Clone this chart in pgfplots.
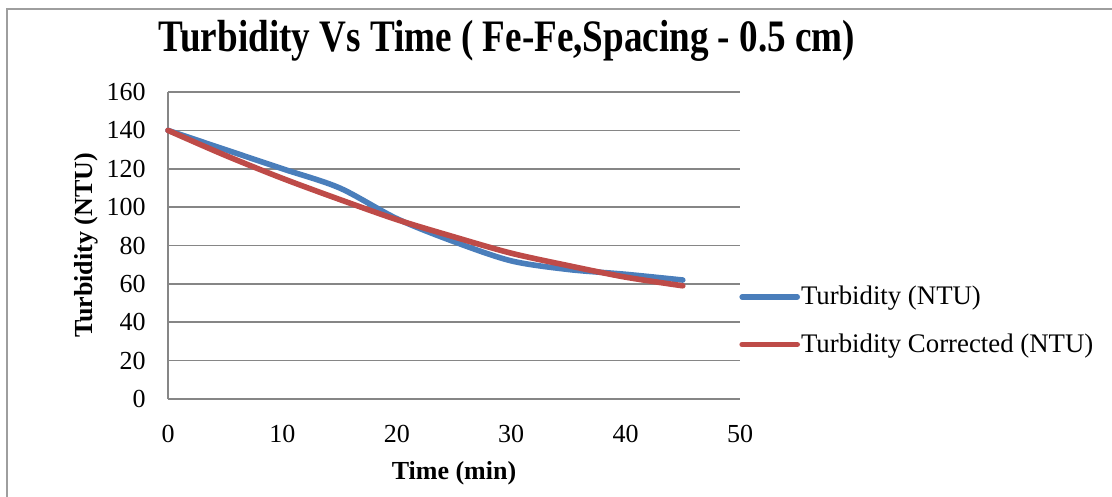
\documentclass[border=0pt]{standalone}
\usepackage{fontspec}
\setmainfont{Liberation Serif}
\usepackage{graphicx}
\usepackage{pgfplots}
\pgfplotsset{compat=1.18}
\definecolor{ser1}{RGB}{74,126,187}
\definecolor{ser2}{RGB}{190,75,72}
\definecolor{gridc}{RGB}{134,134,134}
\begin{document}
\begin{tikzpicture}
\useasboundingbox (0,0) rectangle (556pt,-248.5pt);
\draw[gridc!80, line width=0.8pt] (3.5pt,-248.5pt) -- (3.5pt,-4.5pt) -- (556pt,-4.5pt);
\node[anchor=base, font=\fontsize{22.5}{26}\selectfont\bfseries] at (253.5pt,-26pt) {\scalebox{0.825}[1]{Turbidity Vs Time ( Fe-Fe,Spacing - 0.5 cm)}};
\begin{axis}[
  at={(84pt,-199.5pt)}, anchor=south west,
  scale only axis, width=286pt, height=153.5pt,
  xmin=0, xmax=50, ymin=0, ymax=160,
  xtick={0,10,...,50}, ytick={0,20,...,160},
  axis x line*=bottom, axis y line*=left,
  axis line style={gridc, line width=0.8pt, -},
  ymajorgrids, grid style={gridc, line width=0.8pt},
  major tick length=0pt,
  /pgf/number format/assume math mode=true,
  tick label style={font=\fontsize{13}{15}\selectfont},
  yticklabel style={anchor=east, inner sep=0pt, xshift=-11pt},
  xticklabel style={anchor=north, inner sep=0pt, yshift=-13pt},
  xlabel={Time (min)}, ylabel={Turbidity (NTU)},
  every axis x label/.style={at={(axis description cs:0.5,0)}, anchor=center, yshift=-37pt, font=\fontsize{13}{15}\selectfont\bfseries},
  every axis y label/.style={at={(axis description cs:0,0.5)}, xshift=-41pt, rotate=90, anchor=center, font=\fontsize{13}{15}\selectfont\bfseries},
  clip=false,
  legend style={at={(axis description cs:1,0.255)}, anchor=west, xshift=-0.5pt, draw=none, fill=none,
    inner sep=0pt, font=\fontsize{13.4}{15}\selectfont, row sep=12pt,
    nodes={inner sep=0.5pt}},
  legend cell align=left,
  legend image code/.code={\draw[#1, line cap=round] (0pt,0pt) -- (27.5pt,0pt);},
]
\addplot[ser1, line width=2.8pt, smooth, line cap=round] coordinates {
(0,140) (5,130) (10,120) (15,110) (20,94) (25,82) (30,72) (35,67.5) (40,65) (45,62)};
\addlegendentry{Turbidity (NTU)}
\addplot[ser2, line width=2.8pt, smooth, line cap=round] coordinates {
(0,140) (5,127) (10,115) (15,104) (20,93.5) (25,84.5) (30,76) (35,69.5) (40,63.5) (45,59)};
\addlegendentry{Turbidity Corrected (NTU)}
\end{axis}
\end{tikzpicture}
\end{document}
